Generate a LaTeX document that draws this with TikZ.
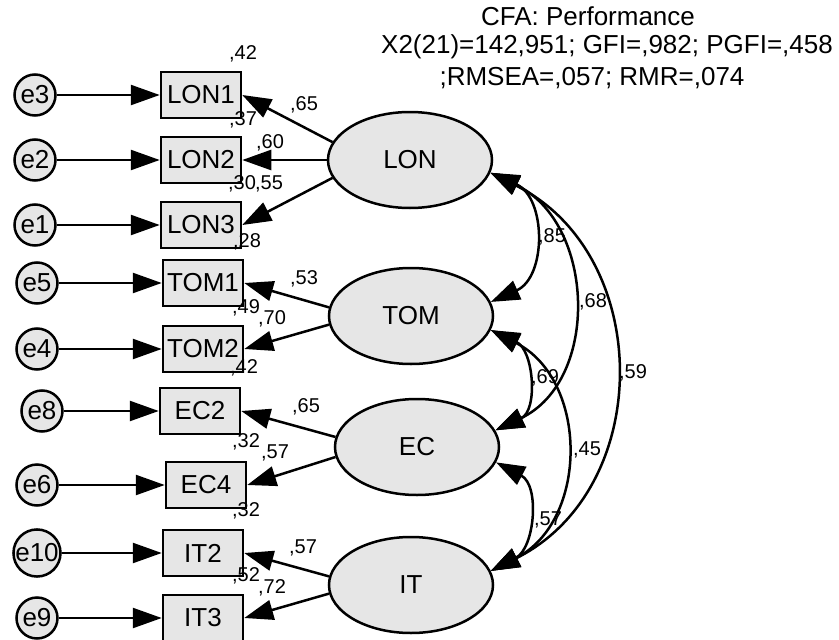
\documentclass[tikz,border=0pt]{standalone}
\usepackage{fontspec}
\setmainfont{Liberation Sans}
\usetikzlibrary{arrows.meta,shapes.geometric}
\definecolor{boxgray}{RGB}{230,230,230}
\tikzset{
  bigtext/.style={font=\fontsize{26}{30}\selectfont},
  obs/.style={draw, line width=2.5pt, fill=boxgray, minimum width=80pt, minimum height=46pt, inner sep=0pt, bigtext},
  lat/.style={ellipse, draw, line width=2.5pt, fill=boxgray, minimum width=164pt, minimum height=96pt, inner sep=0pt, bigtext},
  err/.style={circle, draw, line width=2.5pt, fill=boxgray, minimum size=41pt, inner sep=0pt, bigtext},
  lab/.style={font=\fontsize{20}{22}\selectfont, inner sep=0pt},
  ttl/.style={font=\fontsize{26}{30}\selectfont, inner sep=0pt},
  arr/.style={line width=2.5pt, -{Triangle[length=29pt, width=20pt]}},
  cov/.style={line width=2.5pt, {Triangle[length=29pt, width=20pt]}-{Triangle[length=29pt, width=20pt]}},
}
\begin{document}
\begin{tikzpicture}[x=1pt, y=-1pt]
\clip (0,0) rectangle (839,640);
\fill[white] (0,0) rectangle (839,640);
% title
\node[ttl] (t1) at (588,16) {CFA: Performance};
\node[ttl] (t2) at (607,47) {X2(21)=142,951; GFI=,982; PGFI=,458};
\node[ttl] (t3) at (592,78) {;RMSEA=,057; RMR=,074};
% latent
\node[lat] (LON) at (410,160) {LON};
\node[lat] (TOM) at (411,316) {TOM};
\node[lat] (EC) at (417,447) {EC};
\node[lat] (IT) at (411,585) {IT};
% observed
\node[obs] (LON1) at (201,95) {LON1};
\node[obs] (LON2) at (201,160) {LON2};
\node[obs] (LON3) at (201,225) {LON3};
\node[obs] (TOM1) at (203,283) {TOM1};
\node[obs] (TOM2) at (203,349) {TOM2};
\node[obs] (EC2) at (200,411) {EC2};
\node[obs] (EC4) at (206,485) {EC4};
\node[obs] (IT2) at (203,553) {IT2};
\node[obs] (IT3) at (203,618) {IT3};
% errors
\node[err] (e3) at (35,95) {e3};
\node[err] (e2) at (35,160) {e2};
\node[err] (e1) at (35,225) {e1};
\node[err] (e5) at (37,283) {e5};
\node[err] (e4) at (37,349) {e4};
\node[err] (e8) at (42,411) {e8};
\node[err] (e6) at (37,485) {e6};
\node[err] (e10) at (37,553) {e10};
\node[err] (e9) at (37,618) {e9};
% error arrows
\foreach \e/\b in {e3/LON1,e2/LON2,e1/LON3,e5/TOM1,e4/TOM2,e8/EC2,e6/EC4,e10/IT2,e9/IT3}
  \draw[arr] (\e) -- (\b);
% loadings
\draw[arr] (LON.167) -- (LON1.east);
\draw[arr] (LON.180) -- (LON2.east);
\draw[arr] (LON.193) -- (LON3.east);
\draw[arr] (TOM.174) -- (TOM1.east);
\draw[arr] (TOM.186) -- (TOM2.east);
\draw[arr] (EC.173) -- (EC2.east);
\draw[arr] (EC.187) -- (EC4.east);
\draw[arr] (IT.174) -- (IT2.east);
\draw[arr] (IT.186) -- (IT3.east);
% covariances
\draw[cov] (LON.-9) .. controls +(56,25) and +(56,-25) .. (TOM.10);
\draw[cov] (LON.-9) .. controls +(105,50) and +(105,-50) .. (EC.12);
\draw[cov] (LON.-9) .. controls +(164,82) and +(164,-82) .. (IT.10);
\draw[cov] (TOM.-10) .. controls +(43,20) and +(43,-20) .. (EC.12);
\draw[cov] (TOM.-10) .. controls +(98,50) and +(98,-50) .. (IT.10);
\draw[cov] (EC.-11) .. controls +(44,23) and +(44,-23) .. (IT.10);
% labels: R2
\node[lab] (r1) at (243,54) {,42};
\node[lab] (r2) at (243,120) {,37};
\node[lab] (r3) at (242,184) {,30};
\node[lab] (r4) at (247,242) {,28};
\node[lab] (r5) at (246,308) {,49};
\node[lab] (r6) at (244,368) {,42};
\node[lab] (r7) at (246,442) {,32};
\node[lab] (r8) at (246,511) {,32};
\node[lab] (r9) at (246,576) {,52};
% labels: loadings
\node[lab] (l1) at (304,105) {,65};
\node[lab] (l2) at (270,143) {,60};
\node[lab] (l3) at (269,184) {,55};
\node[lab] (l4) at (304,279) {,53};
\node[lab] (l5) at (272,319) {,70};
\node[lab] (l6) at (306,407) {,65};
\node[lab] (l7) at (275,453) {,57};
\node[lab] (l8) at (303,548) {,57};
\node[lab] (l9) at (272,588) {,72};
% labels: covariances
\node[lab] (c1) at (552,237) {,85};
\node[lab] (c2) at (593,302) {,68};
\node[lab] (c3) at (633,373) {,59};
\node[lab] (c4) at (545,378) {,69};
\node[lab] (c5) at (587,450) {,45};
\node[lab] (c6) at (548,520) {,57};
\end{tikzpicture}
\end{document}
